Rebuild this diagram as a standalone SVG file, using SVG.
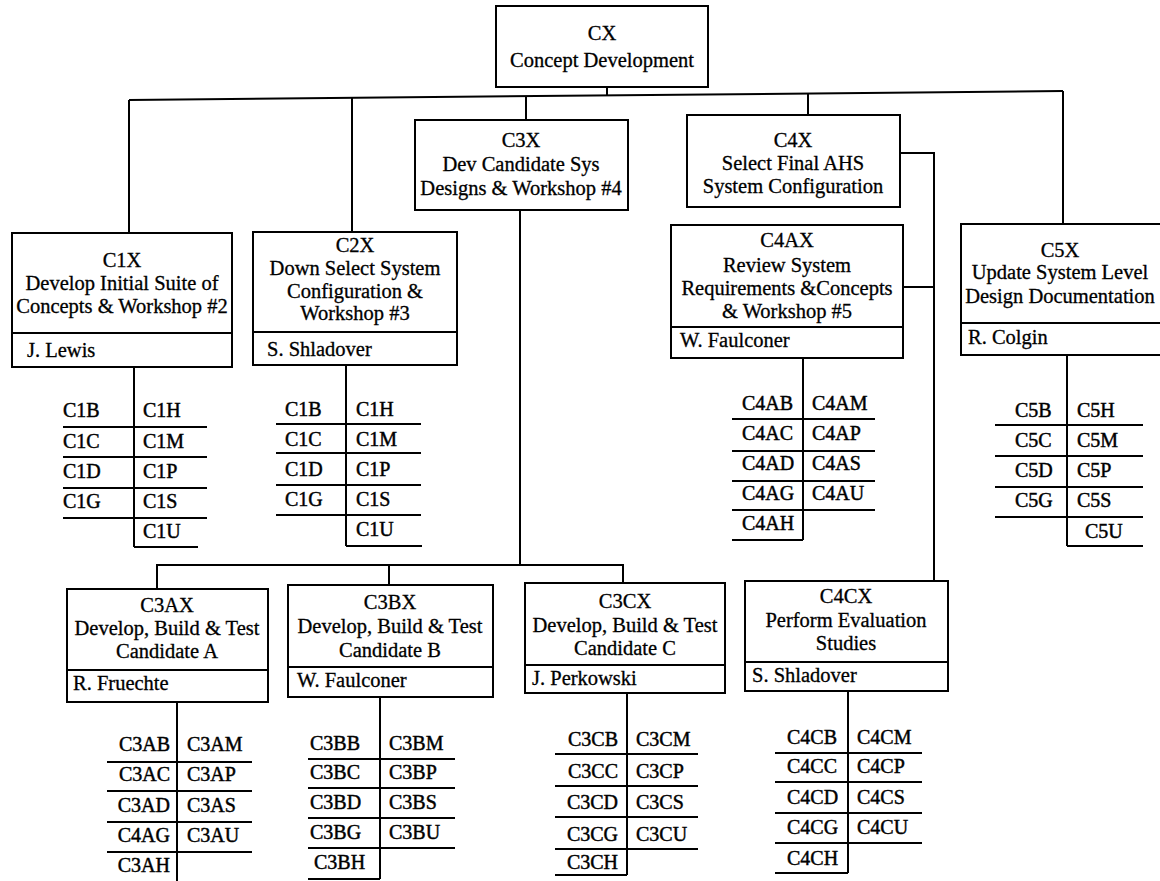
<svg xmlns="http://www.w3.org/2000/svg" width="1160" height="881" viewBox="0 0 1160 881">
<style>
.bg{fill:#fff}
.box{fill:#fff;stroke:#000;stroke-width:2}
.ln{stroke:#000;stroke-width:2;fill:none}
.t{font-family:"Liberation Serif","Times New Roman",serif;font-size:20.5px;fill:#000;stroke:#000;stroke-width:0.3}
.c{text-anchor:middle}
.e{text-anchor:end}
.l{font-family:"Liberation Serif","Times New Roman",serif;font-size:20px;fill:#000;stroke:#000;stroke-width:0.45}
</style>
<rect class="bg" x="0" y="0" width="1160" height="881"/>
<g id="connectors">
<polyline class="ln" points="129,100 1063,91"/>
<line class="ln" x1="607" y1="87" x2="607" y2="95.4"/>
<line class="ln" x1="129" y1="100" x2="129" y2="233"/>
<line class="ln" x1="352" y1="98" x2="352" y2="232"/>
<line class="ln" x1="526" y1="96" x2="526" y2="120"/>
<line class="ln" x1="808" y1="93.5" x2="808" y2="115"/>
<line class="ln" x1="1063" y1="91" x2="1063" y2="224"/>
<polyline class="ln" points="900,153 934,153 934,581"/>
<line class="ln" x1="903" y1="287" x2="934" y2="287"/>
<line class="ln" x1="520" y1="210" x2="520" y2="565"/>
<polyline class="ln" points="157,589 157,565 623,565 623,583"/>
<line class="ln" x1="389" y1="565" x2="389" y2="585"/>
</g>
<g id="CX">
<rect class="box" x="496" y="6" width="212" height="81"/>
<text class="t c" x="602" y="40">CX</text>
<text class="t c" x="602" y="67">Concept Development</text>
</g>
<g id="C3X">
<rect class="box" x="415" y="120" width="213" height="90"/>
<text class="t c" x="521" y="147">C3X</text>
<text class="t c" x="521" y="171">Dev Candidate Sys</text>
<text class="t c" x="521" y="195">Designs &amp; Workshop #4</text>
</g>
<g id="C4X">
<rect class="box" x="687" y="115" width="213" height="92"/>
<text class="t c" x="793" y="147">C4X</text>
<text class="t c" x="793" y="170">Select Final AHS</text>
<text class="t c" x="793" y="193">System Configuration</text>
</g>
<g id="C1X">
<rect class="box" x="12" y="233" width="220" height="134"/>
<line class="ln" x1="12" y1="333" x2="232" y2="333"/>
<text class="t c" x="122" y="267">C1X</text>
<text class="t c" x="122" y="290">Develop Initial Suite of</text>
<text class="t c" x="122" y="313">Concepts &amp; Workshop #2</text>
<text class="t" x="27" y="357">J. Lewis</text>
</g>
<g id="C2X">
<rect class="box" x="253" y="232" width="204" height="133"/>
<line class="ln" x1="253" y1="332" x2="457" y2="332"/>
<text class="t c" x="355" y="252">C2X</text>
<text class="t c" x="355" y="275">Down Select System</text>
<text class="t c" x="355" y="298">Configuration &amp;</text>
<text class="t c" x="355" y="320">Workshop #3</text>
<text class="t" x="267" y="356">S. Shladover</text>
</g>
<g id="C4AX">
<rect class="box" x="671" y="225" width="232" height="133"/>
<line class="ln" x1="671" y1="327" x2="903" y2="327"/>
<text class="t c" x="787" y="247">C4AX</text>
<text class="t c" x="787" y="272">Review System</text>
<text class="t c" x="787" y="295">Requirements &amp;Concepts</text>
<text class="t c" x="787" y="318">&amp; Workshop #5</text>
<text class="t" x="680" y="347">W. Faulconer</text>
</g>
<g id="C5X">
<rect class="box" x="961" y="224" width="210" height="131"/>
<line class="ln" x1="961" y1="323" x2="1171" y2="323"/>
<text class="t c" x="1060" y="257">C5X</text>
<text class="t c" x="1060" y="279">Update System Level</text>
<text class="t c" x="1060" y="303">Design Documentation</text>
<text class="t" x="968" y="344">R. Colgin</text>
</g>
<g id="C3AX">
<rect class="box" x="67" y="589" width="201" height="113"/>
<line class="ln" x1="67" y1="670" x2="268" y2="670"/>
<text class="t c" x="167" y="612">C3AX</text>
<text class="t c" x="167" y="635">Develop, Build &amp; Test</text>
<text class="t c" x="167" y="658">Candidate A</text>
<text class="t" x="73" y="690">R. Fruechte</text>
</g>
<g id="C3BX">
<rect class="box" x="288" y="585" width="205" height="112"/>
<line class="ln" x1="288" y1="667" x2="493" y2="667"/>
<text class="t c" x="390" y="609">C3BX</text>
<text class="t c" x="390" y="633">Develop, Build &amp; Test</text>
<text class="t c" x="390" y="657">Candidate B</text>
<text class="t" x="297" y="687">W. Faulconer</text>
</g>
<g id="C3CX">
<rect class="box" x="525" y="583" width="200" height="110"/>
<line class="ln" x1="525" y1="665" x2="725" y2="665"/>
<text class="t c" x="625" y="608">C3CX</text>
<text class="t c" x="625" y="632">Develop, Build &amp; Test</text>
<text class="t c" x="625" y="655">Candidate C</text>
<text class="t" x="532" y="685">J. Perkowski</text>
</g>
<g id="C4CX">
<rect class="box" x="745" y="581" width="203" height="110"/>
<line class="ln" x1="745" y1="662" x2="948" y2="662"/>
<text class="t c" x="846" y="603">C4CX</text>
<text class="t c" x="846" y="627">Perform Evaluation</text>
<text class="t c" x="846" y="650">Studies</text>
<text class="t" x="752" y="682">S. Shladover</text>
</g>
<g id="C1-list">
<line class="ln" x1="134" y1="367" x2="134" y2="547"/>
<line class="ln" x1="63" y1="427" x2="207" y2="427"/>
<line class="ln" x1="63" y1="457" x2="207" y2="457"/>
<line class="ln" x1="63" y1="488" x2="207" y2="488"/>
<line class="ln" x1="63" y1="518" x2="207" y2="518"/>
<line class="ln" x1="134" y1="547" x2="198" y2="547"/>
<text class="l" x="63" y="417">C1B</text><text class="l" x="143" y="417">C1H</text>
<text class="l" x="63" y="448">C1C</text><text class="l" x="143" y="448">C1M</text>
<text class="l" x="63" y="478">C1D</text><text class="l" x="143" y="478">C1P</text>
<text class="l" x="63" y="508">C1G</text><text class="l" x="143" y="508">C1S</text>
<text class="l" x="143" y="538">C1U</text>
</g>
<g id="C2-list">
<line class="ln" x1="346" y1="365" x2="346" y2="546"/>
<line class="ln" x1="276" y1="424" x2="421" y2="424"/>
<line class="ln" x1="276" y1="453" x2="421" y2="453"/>
<line class="ln" x1="276" y1="485" x2="421" y2="485"/>
<line class="ln" x1="276" y1="515" x2="421" y2="515"/>
<line class="ln" x1="346" y1="546" x2="422" y2="546"/>
<text class="l" x="285" y="416">C1B</text><text class="l" x="356" y="416">C1H</text>
<text class="l" x="285" y="446">C1C</text><text class="l" x="356" y="446">C1M</text>
<text class="l" x="285" y="476">C1D</text><text class="l" x="356" y="476">C1P</text>
<text class="l" x="285" y="506">C1G</text><text class="l" x="356" y="506">C1S</text>
<text class="l" x="356" y="536">C1U</text>
</g>
<g id="C4A-list">
<line class="ln" x1="803" y1="358" x2="803" y2="540"/>
<line class="ln" x1="732" y1="419" x2="875" y2="419"/>
<line class="ln" x1="732" y1="451" x2="875" y2="451"/>
<line class="ln" x1="732" y1="481" x2="875" y2="481"/>
<line class="ln" x1="732" y1="510" x2="875" y2="510"/>
<line class="ln" x1="732" y1="540" x2="803" y2="540"/>
<text class="l" x="742" y="410">C4AB</text><text class="l" x="812" y="410">C4AM</text>
<text class="l" x="742" y="440">C4AC</text><text class="l" x="812" y="440">C4AP</text>
<text class="l" x="742" y="470">C4AD</text><text class="l" x="812" y="470">C4AS</text>
<text class="l" x="742" y="500">C4AG</text><text class="l" x="812" y="500">C4AU</text>
<text class="l" x="742" y="530">C4AH</text>
</g>
<g id="C5-list">
<line class="ln" x1="1067" y1="355" x2="1067" y2="546"/>
<line class="ln" x1="995" y1="425" x2="1143" y2="425"/>
<line class="ln" x1="995" y1="456" x2="1143" y2="456"/>
<line class="ln" x1="995" y1="487" x2="1143" y2="487"/>
<line class="ln" x1="995" y1="517" x2="1143" y2="517"/>
<line class="ln" x1="1067" y1="546" x2="1143" y2="546"/>
<text class="l" x="1015" y="417">C5B</text><text class="l" x="1077" y="417">C5H</text>
<text class="l" x="1015" y="447">C5C</text><text class="l" x="1077" y="447">C5M</text>
<text class="l" x="1015" y="477">C5D</text><text class="l" x="1077" y="477">C5P</text>
<text class="l" x="1015" y="507">C5G</text><text class="l" x="1077" y="507">C5S</text>
<text class="l" x="1085" y="538">C5U</text>
</g>
<g id="C3A-list">
<line class="ln" x1="177" y1="702" x2="177" y2="881"/>
<line class="ln" x1="107" y1="762" x2="252" y2="762"/>
<line class="ln" x1="107" y1="791" x2="252" y2="791"/>
<line class="ln" x1="107" y1="822" x2="252" y2="822"/>
<line class="ln" x1="107" y1="852" x2="252" y2="852"/>
<text class="l e" x="170" y="751">C3AB</text><text class="l" x="187" y="751">C3AM</text>
<text class="l e" x="170" y="781">C3AC</text><text class="l" x="187" y="781">C3AP</text>
<text class="l e" x="170" y="812">C3AD</text><text class="l" x="187" y="812">C3AS</text>
<text class="l e" x="170" y="842">C4AG</text><text class="l" x="187" y="842">C3AU</text>
<text class="l e" x="170" y="872">C3AH</text>
</g>
<g id="C3B-list">
<line class="ln" x1="380" y1="697" x2="380" y2="879"/>
<line class="ln" x1="308" y1="759" x2="455" y2="759"/>
<line class="ln" x1="308" y1="788" x2="455" y2="788"/>
<line class="ln" x1="308" y1="818" x2="455" y2="818"/>
<line class="ln" x1="308" y1="848" x2="455" y2="848"/>
<line class="ln" x1="308" y1="879" x2="380" y2="879"/>
<text class="l" x="310" y="750">C3BB</text><text class="l" x="389" y="750">C3BM</text>
<text class="l" x="310" y="779">C3BC</text><text class="l" x="389" y="779">C3BP</text>
<text class="l" x="310" y="809">C3BD</text><text class="l" x="389" y="809">C3BS</text>
<text class="l" x="310" y="839">C3BG</text><text class="l" x="389" y="839">C3BU</text>
<text class="l" x="314" y="869">C3BH</text>
</g>
<g id="C3C-list">
<line class="ln" x1="627" y1="693" x2="627" y2="875"/>
<line class="ln" x1="555" y1="754" x2="698" y2="754"/>
<line class="ln" x1="555" y1="786" x2="698" y2="786"/>
<line class="ln" x1="555" y1="817" x2="698" y2="817"/>
<line class="ln" x1="555" y1="849" x2="698" y2="849"/>
<line class="ln" x1="555" y1="875" x2="627" y2="875"/>
<text class="l e" x="618" y="746">C3CB</text><text class="l" x="636" y="746">C3CM</text>
<text class="l e" x="618" y="778">C3CC</text><text class="l" x="636" y="778">C3CP</text>
<text class="l e" x="618" y="809">C3CD</text><text class="l" x="636" y="809">C3CS</text>
<text class="l e" x="618" y="841">C3CG</text><text class="l" x="636" y="841">C3CU</text>
<text class="l e" x="618" y="869">C3CH</text>
</g>
<g id="C4C-list">
<line class="ln" x1="848" y1="691" x2="848" y2="873"/>
<line class="ln" x1="775" y1="753" x2="922" y2="753"/>
<line class="ln" x1="775" y1="782" x2="922" y2="782"/>
<line class="ln" x1="775" y1="813" x2="922" y2="813"/>
<line class="ln" x1="775" y1="843" x2="922" y2="843"/>
<line class="ln" x1="775" y1="873" x2="848" y2="873"/>
<text class="l" x="787" y="744">C4CB</text><text class="l" x="857" y="744">C4CM</text>
<text class="l" x="787" y="773">C4CC</text><text class="l" x="857" y="773">C4CP</text>
<text class="l" x="787" y="804">C4CD</text><text class="l" x="857" y="804">C4CS</text>
<text class="l" x="787" y="834">C4CG</text><text class="l" x="857" y="834">C4CU</text>
<text class="l" x="787" y="865">C4CH</text>
</g>
</svg>
